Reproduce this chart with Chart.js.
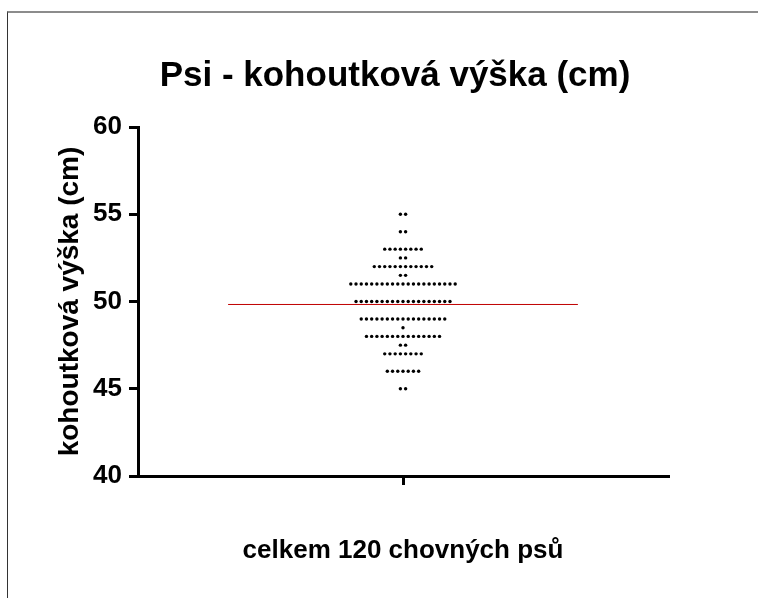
<!DOCTYPE html>
<html>
<head>
<meta charset="utf-8">
<script src="https://cdn.jsdelivr.net/npm/chart.js@4"></script>
<style>
    html, body { margin: 0; padding: 0; background: #fff; }
    body { width: 758px; height: 598px; position: relative; overflow: hidden; }
    #frame {
        position: absolute; left: 7px; top: 11px; width: 800px; height: 700px;
        border-top: 2px solid #8c8c8c; border-left: 1px solid #333;
    }
    #chart { position: absolute; left: 0; top: 0; }
</style>
</head>
<body>
<div id="frame"></div>
<canvas id="chart" width="758" height="598"></canvas>
<script>
'use strict';

const CHART_TITLE = 'Psi - kohoutková výška (cm)';
const Y_TITLE = 'kohoutková výška (cm)';
const X_TITLE = 'celkem 120 chovných psů';

// heights (cm) and how many dogs sit on each level
const HEIGHT_LEVELS = [55, 54, 53, 52.5, 52, 51.5, 51, 50, 49, 48.5, 48, 47.5, 47, 46, 45];
const DOG_COUNTS = [2, 2, 8, 2, 12, 2, 21, 19, 17, 1, 15, 2, 8, 7, 2];
const Y_TICKS = [40, 45, 50, 55, 60];

const FONT = "'Liberation Sans', Arial, sans-serif";
const DOT_STEP = 0.0197; // horizontal gap between dots in a row
const MEAN_HALF_WIDTH = 0.66;

document.addEventListener('DOMContentLoaded', function () {
    const dots = [];
    let sum = 0;
    let total = 0;
    HEIGHT_LEVELS.forEach((h, i) => {
        const n = DOG_COUNTS[i];
        for (let k = 0; k < n; k++) {
            dots.push({ x: (k - (n - 1) / 2) * DOT_STEP, y: h });
        }
        sum += h * n;
        total += n;
    });
    const mean = sum / total;

    new Chart(document.getElementById('chart'), {
        type: 'scatter',
        data: {
            datasets: [
                {
                    label: 'psi',
                    data: dots,
                    pointRadius: 1.7,
                    pointBackgroundColor: '#000',
                    pointBorderWidth: 0,
                    borderColor: '#000'
                },
                {
                    type: 'line',
                    label: 'průměr',
                    data: [{ x: -MEAN_HALF_WIDTH, y: mean }, { x: MEAN_HALF_WIDTH, y: mean }],
                    borderColor: '#c00000',
                    borderWidth: 1,
                    pointRadius: 0,
                    showLine: true
                }
            ]
        },
        options: {
            responsive: false,
            animation: false,
            layout: { padding: { left: 32, right: 0, top: 0, bottom: 0 } },
            plugins: {
                legend: { display: false },
                tooltip: { enabled: false },
                title: {
                    display: true,
                    text: CHART_TITLE,
                    color: '#000',
                    font: { family: FONT, size: 35, weight: 'bold' },
                    padding: { top: 55, bottom: 30 }
                }
            },
            scales: {
                x: {
                    type: 'linear',
                    min: -1,
                    max: 1,
                    afterBuildTicks: (s) => { s.ticks = [{ value: 0 }]; },
                    afterFit: (s) => { s.height = 122; },
                    ticks: { display: false },
                    grid: { drawOnChartArea: false, drawTicks: true, tickLength: 9, lineWidth: 3, color: '#000' },
                    border: { display: true, width: 3, color: '#000' },
                    title: {
                        display: true,
                        text: X_TITLE,
                        color: '#000',
                        font: { family: FONT, size: 26, weight: 'bold' },
                        padding: { top: 0, bottom: 32 }
                    }
                },
                y: {
                    min: Y_TICKS[0],
                    max: Y_TICKS[Y_TICKS.length - 1],
                    afterBuildTicks: (s) => { s.ticks = Y_TICKS.map((v) => ({ value: v })); },
                    afterFit: (s) => { s.width = 106; },
                    ticks: {
                        color: '#000',
                        padding: 7,
                        font: { family: FONT, size: 26, weight: 'bold' }
                    },
                    grid: { drawOnChartArea: false, drawTicks: true, tickLength: 9, lineWidth: 3, color: '#000' },
                    border: { display: true, width: 3, color: '#000' },
                    title: {
                        display: true,
                        text: Y_TITLE,
                        color: '#000',
                        font: { family: FONT, size: 28, weight: 'bold' },
                        padding: { top: 21, bottom: 0 }
                    }
                },
                // empty right-hand strip so the title centres like the original
                side: {
                    type: 'linear',
                    position: 'right',
                    afterFit: (s) => { s.width = 90; },
                    ticks: { display: false },
                    grid: { display: false },
                    border: { display: false }
                }
            }
        }
    });
});
</script>
</body>
</html>
